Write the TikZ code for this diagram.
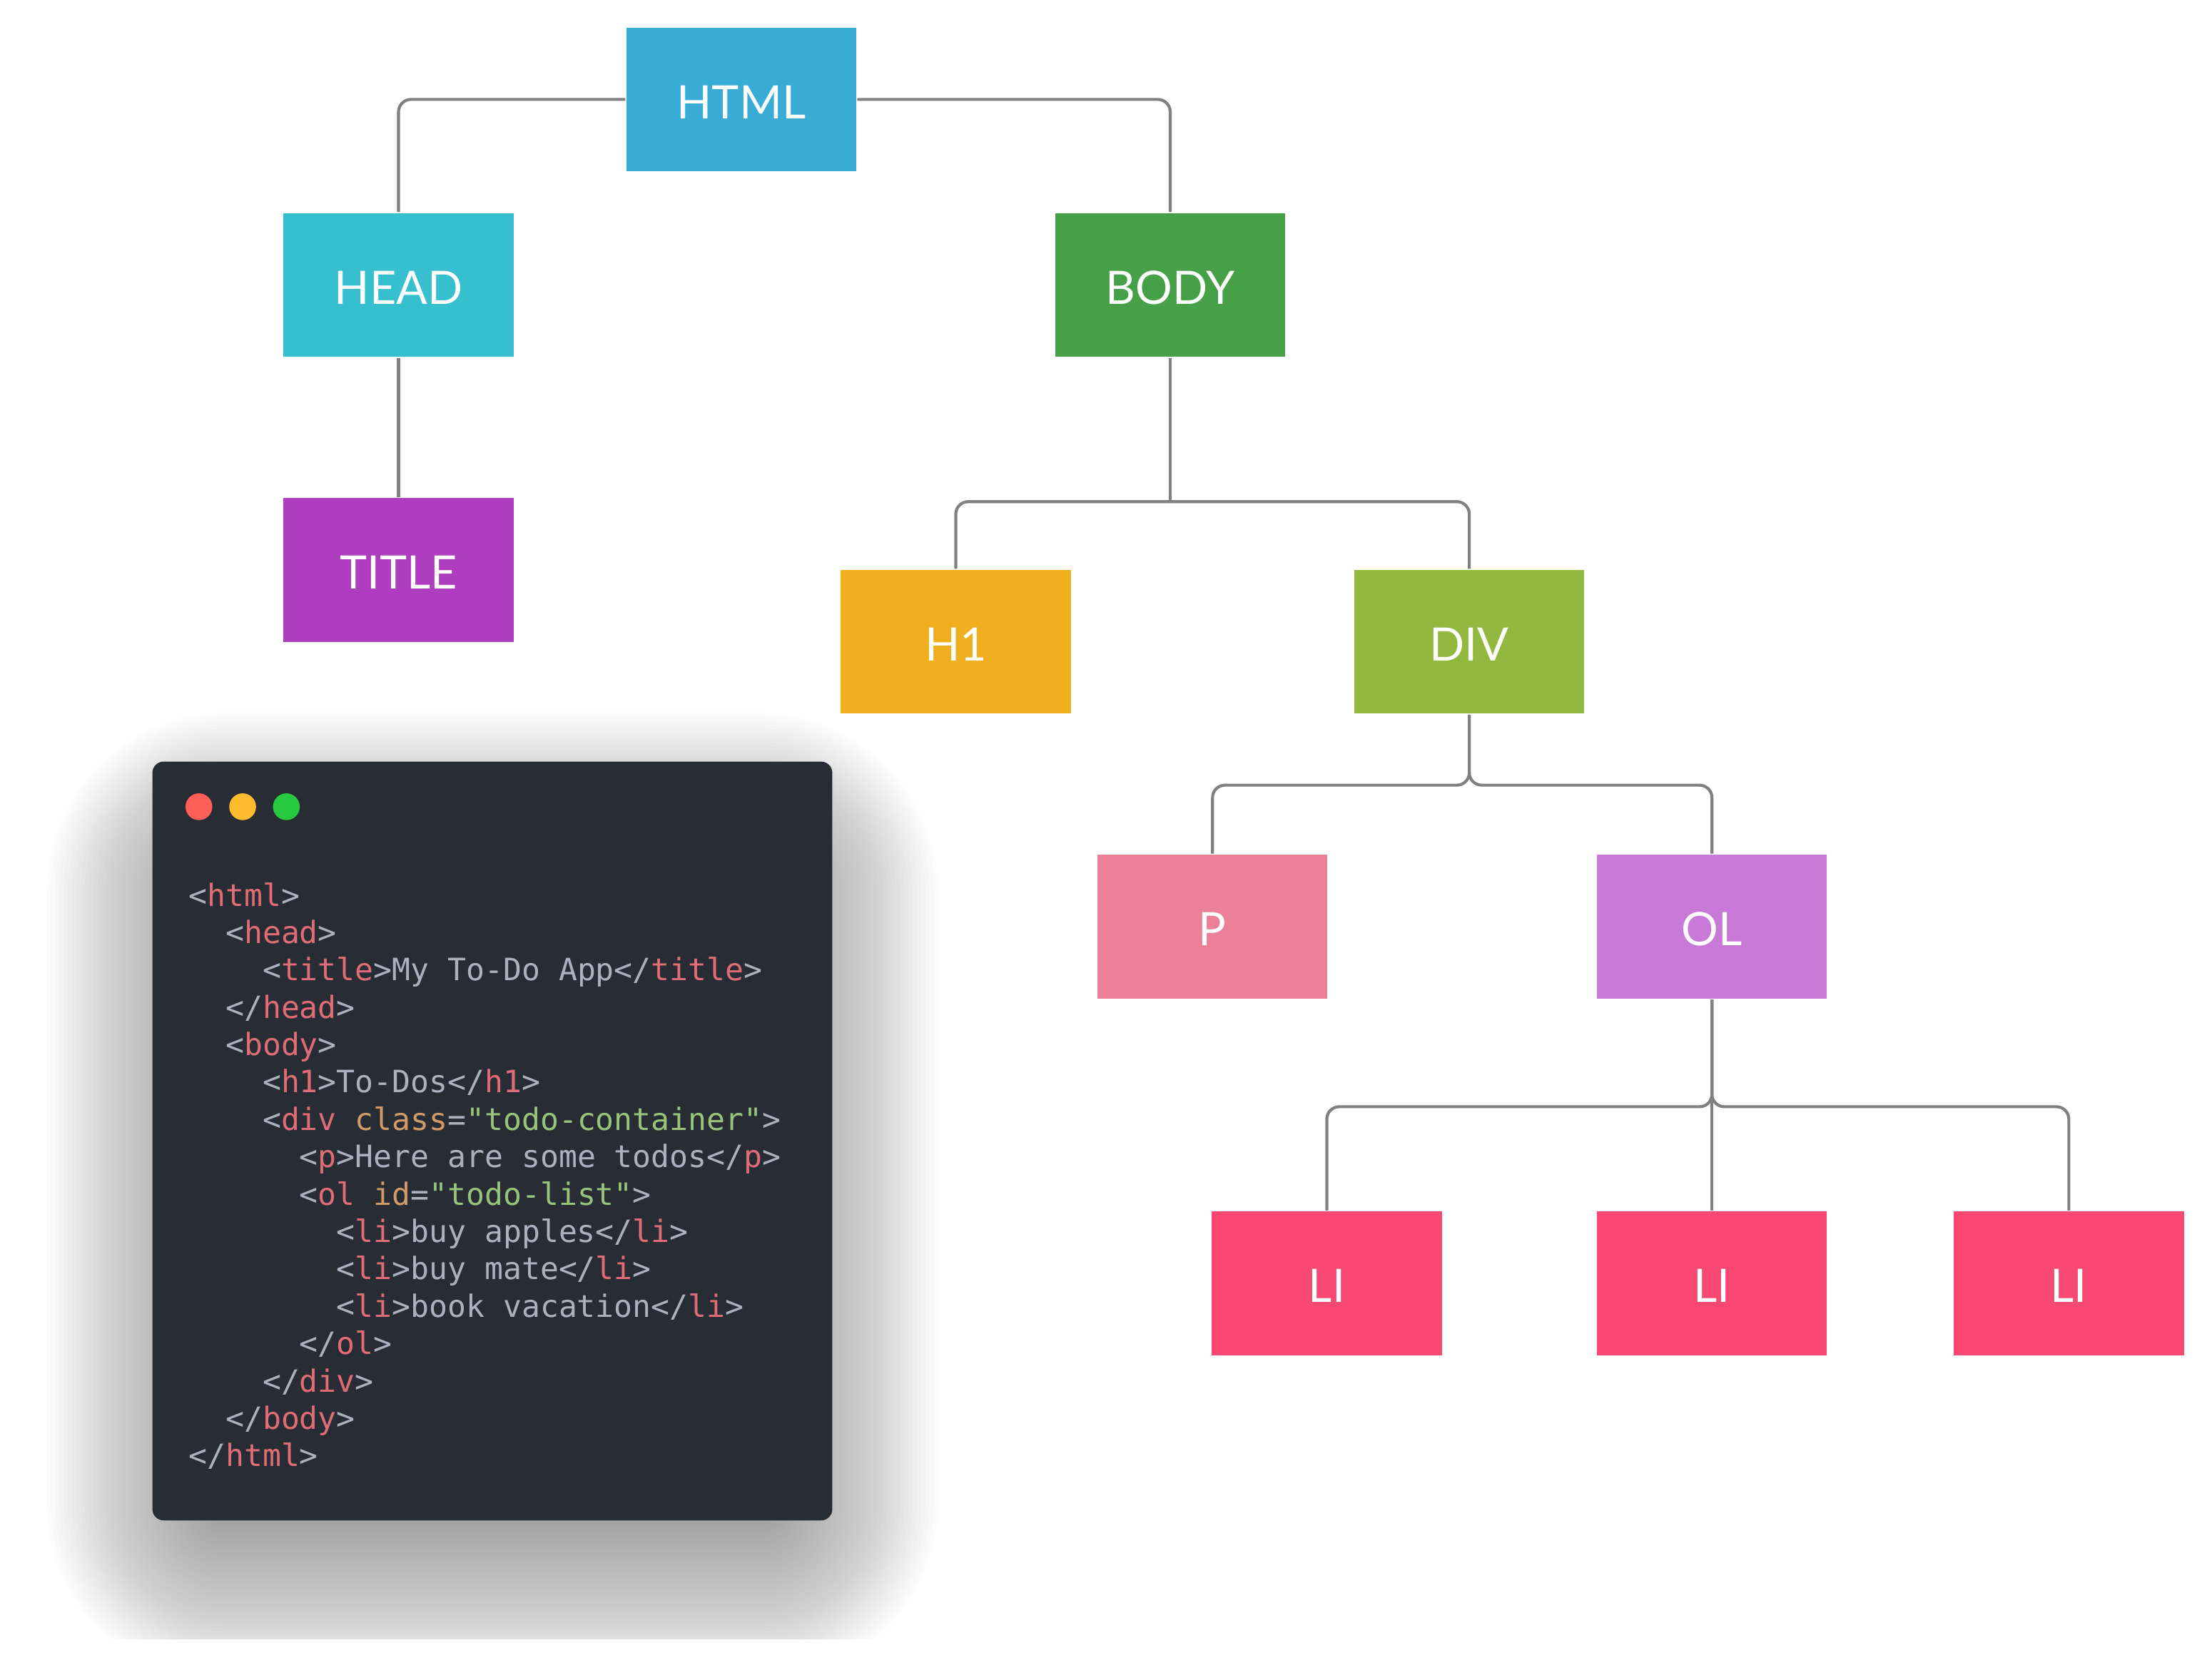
\documentclass[tikz,border=0pt]{standalone}
\usepackage{fontspec}
\setmonofont{DejaVu Sans Mono}
\newfontfamily\labelfont{Lato}
\usepackage{xcolor}
\usepackage{tikz}
\usetikzlibrary{positioning}
\definecolor{tagHtml}{HTML}{38ABD6}
\definecolor{tagHead}{HTML}{35BFCF}
\definecolor{tagBody}{HTML}{45A047}
\definecolor{tagTitle}{HTML}{AE3DC0}
\definecolor{tagHOne}{HTML}{F0AF1F}
\definecolor{tagDiv}{HTML}{93B83F}
\definecolor{tagP}{HTML}{EC8098}
\definecolor{tagOl}{HTML}{C879D8}
\definecolor{tagLi}{HTML}{F94872}
\definecolor{linkGrey}{HTML}{808080}
\definecolor{codeBg}{HTML}{282C35}
\definecolor{codeTxt}{HTML}{ABB2BF}
\definecolor{codeTag}{HTML}{E06C75}
\definecolor{codeAttr}{HTML}{D19A66}
\definecolor{codeStr}{HTML}{98C379}
\definecolor{dotRed}{HTML}{FF5F56}
\definecolor{dotYellow}{HTML}{FFBD2E}
\definecolor{dotGreen}{HTML}{27C93F}
\newcommand\ctag[1]{\textcolor{codeTag}{#1}}
\newcommand\cattr[1]{\textcolor{codeAttr}{#1}}
\newcommand\cstr[1]{\textcolor{codeStr}{#1}}
\newcommand\ind[1]{\hspace*{#1\dimexpr0.6021em\relax}}

\begin{document}
\begin{tikzpicture}[
  t/.style={fill=#1,text=white,minimum width=1.63cm,minimum height=1.02cm,
            inner sep=0pt,text height=0.27cm,text depth=0cm,
            font=\labelfont\fontsize{9.3}{11}\selectfont},
  link/.style={draw=linkGrey,line width=0.6pt,rounded corners=2.5pt}]
\useasboundingbox (0,0) rectangle (15.68,-11.84);

% the tree
\node[t=tagHtml]  (html)  at (5.255,-0.705) {HTML};
\node[t=tagHead]  (head)  at (2.825,-2.02)  {HEAD};
\node[t=tagBody]  (body)  at (8.295,-2.02)  {BODY};
\node[t=tagTitle] (title) at (2.825,-4.04)  {TITLE};
\node[t=tagHOne]  (h1)    at (6.775,-4.55)  {H1};
\node[t=tagDiv]   (div)   at (10.415,-4.55) {DIV};
\node[t=tagP]     (p)     at (8.595,-6.57)  {P};
\node[t=tagOl]    (ol)    at (12.135,-6.57) {OL};
\node[t=tagLi]    (li1)   at (9.405,-9.10)  {LI};
\node[t=tagLi]    (li2)   at (12.135,-9.10) {LI};
\node[t=tagLi]    (li3)   at (14.665,-9.10) {LI};

\draw[link] (html.west) -| (head.north);
\draw[link] (html.east) -| (body.north);
\draw[link] (head.south) -- (title.north);
\draw[link] (body.south) -- ++(0,-1.02) coordinate (bj);
\draw[link] (h1.north) |- (bj) -| (div.north);
\draw[link] (div.south) -- ++(0,-0.50) -| (p.north);
\draw[link] (div.south) -- ++(0,-0.50) -| (ol.north);
\draw[link] (ol.south) -- ++(0,-0.76) -| (li1.north);
\draw[link] (ol.south) -- (li2.north);
\draw[link] (ol.south) -- ++(0,-0.76) -| (li3.north);

% code window with its shadow
\begin{scope}
\clip (0.20,-4.52) rectangle (6.78,-11.62);
\foreach \i [evaluate=\i as \e using 0.03*\i] in {1,...,40}
  \fill[black,opacity=0.013,rounded corners=\e cm+2pt]
    ({1.53-\e},{-6.25+\e}) rectangle ({5.45+\e},{-10.73-\e});
\end{scope}
\node[fill=codeBg,rounded corners=0.08cm,minimum width=4.82cm,minimum height=5.38cm,
      inner sep=0pt] (win) at (3.49,-8.09) {};
\fill[dotRed]    (1.41,-5.72) circle (0.095);
\fill[dotYellow] (1.72,-5.72) circle (0.095);
\fill[dotGreen]  (2.03,-5.72) circle (0.095);
\node[anchor=north west,inner sep=0pt,align=left,text=codeTxt,
      font=\ttfamily\fontsize{6.2}{7.54}\selectfont] (code) at (1.33,-6.25) {%
<\ctag{html}>\\
\ind{2}<\ctag{head}>\\
\ind{4}<\ctag{title}>My To-Do App</\ctag{title}>\\
\ind{2}</\ctag{head}>\\
\ind{2}<\ctag{body}>\\
\ind{4}<\ctag{h1}>To-Dos</\ctag{h1}>\\
\ind{4}<\ctag{div} \cattr{class}=\cstr{"todo-container"}>\\
\ind{6}<\ctag{p}>Here are some todos</\ctag{p}>\\
\ind{6}<\ctag{ol} \cattr{id}=\cstr{"todo-list"}>\\
\ind{8}<\ctag{li}>buy apples</\ctag{li}>\\
\ind{8}<\ctag{li}>buy mate</\ctag{li}>\\
\ind{8}<\ctag{li}>book vacation</\ctag{li}>\\
\ind{6}</\ctag{ol}>\\
\ind{4}</\ctag{div}>\\
\ind{2}</\ctag{body}>\\
</\ctag{html}>};
\end{tikzpicture}
\end{document}
